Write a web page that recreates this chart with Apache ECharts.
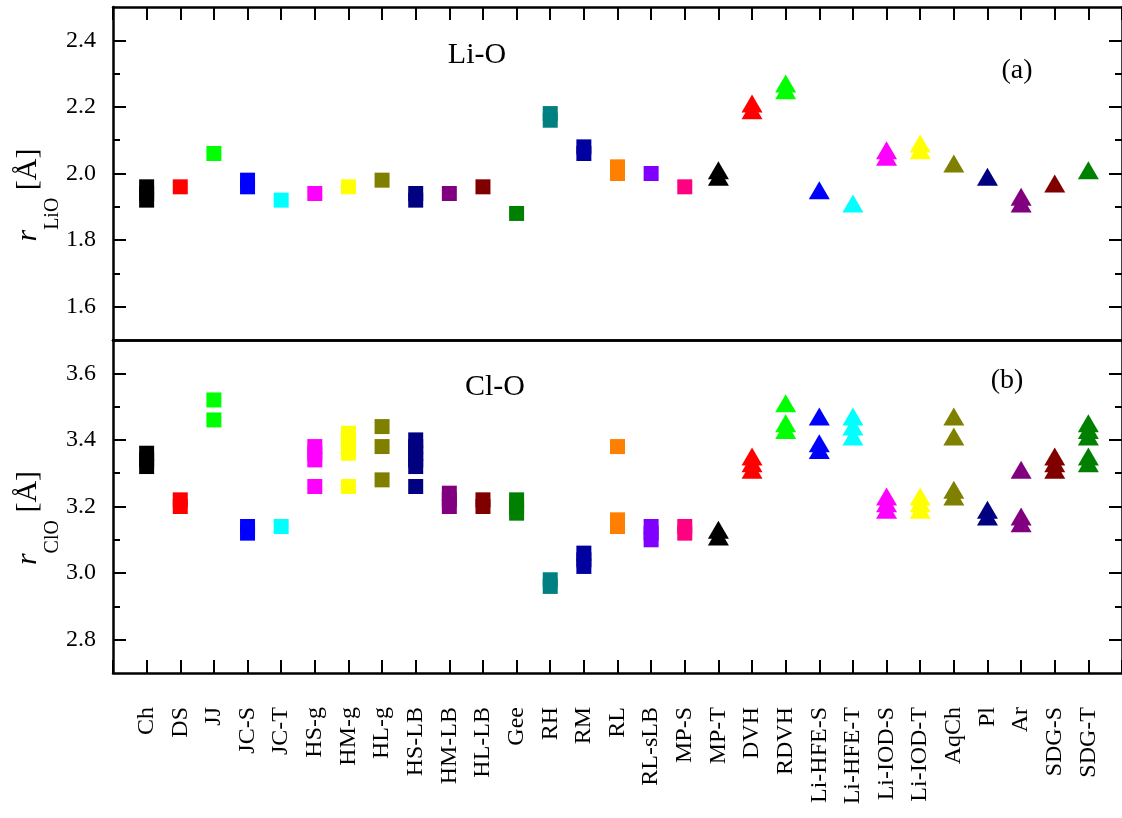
<!DOCTYPE html>
<html>
<head>
<meta charset="utf-8">
<title>Li-O / Cl-O</title>
<script src="https://cdn.jsdelivr.net/npm/echarts@6/dist/echarts.min.js"></script>
<style>
  html, body { margin: 0; padding: 0; background: #fff; }
  #chart { width: 1122px; height: 818px; }
</style>
</head>
<body>
<div id="chart"></div>
<script>
// 横轴：模型名称
var models = ["Ch", "DS", "JJ", "JC-S", "JC-T", "HS-g", "HM-g", "HL-g", "HS-LB", "HM-LB",
  "HL-LB", "Gee", "RH", "RM", "RL", "RL-sLB", "MP-S", "MP-T", "DVH", "RDVH",
  "Li-HFE-S", "Li-HFE-T", "Li-IOD-S", "Li-IOD-T", "AqCh", "Pl", "Ar", "SDG-S", "SDG-T"];
// 每个模型的颜色
var colors = ["#000000", "#ff0000", "#00ff00", "#0000ff", "#00ffff", "#ff00ff", "#ffff00", "#808000", "#000080", "#800080",
  "#800000", "#008000", "#008080", "#0000a0", "#ff8000", "#8000ff", "#ff0080", "#000000", "#ff0000", "#00ff00",
  "#0000ff", "#00ffff", "#ff00ff", "#ffff00", "#808000", "#000080", "#800080", "#800000", "#008000"];
// 从 MP-T 开始用三角
var firstTriangle = 17;

// (a) Li-O 距离
var liO = [
  [1.92, 1.94, 1.96], [1.96], [2.06], [1.96, 1.98], [1.92], [1.94], [1.96], [1.98], [1.92, 1.94], [1.94],
  [1.96], [1.88], [2.16, 2.18], [2.06, 2.08], [2.00, 2.02], [2.00], [1.96], [1.99, 2.01], [2.19, 2.21], [2.25, 2.27],
  [1.95], [1.91], [2.05, 2.07], [2.07, 2.09], [2.03], [1.99], [1.91, 1.93], [1.97], [2.01]
];
// (b) Cl-O 距离
var clO = [
  [3.32, 3.34, 3.36], [3.20, 3.22], [3.46, 3.52], [3.12, 3.14], [3.14], [3.26, 3.34, 3.36, 3.38],
  [3.26, 3.36, 3.38, 3.40, 3.42], [3.28, 3.38, 3.44], [3.26, 3.32, 3.34, 3.36, 3.38, 3.40], [3.20, 3.22, 3.24],
  [3.20, 3.22], [3.18, 3.20, 3.22], [2.96, 2.98], [3.02, 3.04, 3.06], [3.14, 3.16, 3.38], [3.10, 3.12, 3.14],
  [3.12, 3.14], [3.11, 3.13], [3.31, 3.33, 3.35], [3.43, 3.45, 3.51], [3.37, 3.39, 3.47], [3.41, 3.44, 3.47],
  [3.19, 3.21, 3.23], [3.19, 3.21, 3.23], [3.23, 3.25, 3.41, 3.47], [3.17, 3.19], [3.15, 3.17, 3.31],
  [3.31, 3.33, 3.35], [3.33, 3.35, 3.41, 3.43, 3.45]
];

// 纵轴刻度
var ticksA = [1.6, 1.8, 2.0, 2.2, 2.4];
var minorA = [1.7, 1.9, 2.1, 2.3];
var ticksB = [2.8, 3.0, 3.2, 3.4, 3.6];
var minorB = [2.9, 3.1, 3.3, 3.5];

var font = "'Liberation Serif', 'Times New Roman', serif";
var lineW = 2.5;

function toPoints(list) {
  var out = [];
  list.forEach(function (vals, i) {
    vals.forEach(function (v) {
      out.push([i, v]);
    });
  });
  return out;
}

function xAxisOf(grid, pos, ticks, labels) {
  return {
    type: "value", gridIndex: grid, position: pos,
    min: -1, max: 29, interval: 1,
    axisLine: { show: true, onZero: false, lineStyle: { color: "#000", width: lineW } },
    axisTick: { show: ticks, inside: true, length: 13, lineStyle: { color: "#000", width: 2 } },
    axisLabel: {
      show: labels, rotate: 90, margin: 34,
      color: "#000", fontSize: 24, fontFamily: font,
      formatter: function (v) { return models[v] || ""; }
    },
    splitLine: { show: false }
  };
}

function yAxisOf(grid, pos, min, max, vals, len, line, labels) {
  return {
    type: "value", gridIndex: grid, position: pos, min: min, max: max,
    axisLine: { show: line, onZero: false, lineStyle: { color: "#000", width: lineW } },
    axisTick: { show: true, inside: true, length: len, customValues: vals, lineStyle: { color: "#000", width: 2 } },
    axisLabel: {
      show: labels, customValues: vals, margin: 17,
      color: "#000", fontSize: 24, fontFamily: font,
      formatter: function (v) { return v.toFixed(1); }
    },
    splitLine: { show: false }
  };
}

function scatterOf(idx, list) {
  return {
    type: "scatter", xAxisIndex: idx, yAxisIndex: idx * 4,
    data: toPoints(list),
    symbol: function (v) { return v[0] >= firstTriangle ? "triangle" : "rect"; },
    symbolSize: function (v) { return v[0] >= firstTriangle ? [21, 18] : [15, 15]; },
    itemStyle: { color: function (p) { return colors[p.value[0]]; }, opacity: 1 },
    emphasis: { disabled: true }
  };
}

function label(text, x, y, size) {
  return {
    type: "text", x: x, y: y,
    style: { text: text, fill: "#000", font: size + "px " + font, textAlign: "center", textVerticalAlign: "middle" }
  };
}

function axisName(sub, x, y) {
  return {
    type: "text", x: x, y: y, rotation: Math.PI / 2,
    style: {
      text: "{r|r}{s|" + sub + "}{n| [Å]}",
      textAlign: "center", textVerticalAlign: "middle",
      rich: {
        r: { fontSize: 30, fontStyle: "italic", fontFamily: font, lineHeight: 30, verticalAlign: "top", fill: "#000" },
        s: { fontSize: 20, fontFamily: font, lineHeight: 50, verticalAlign: "bottom", fill: "#000" },
        n: { fontSize: 30, fontFamily: font, lineHeight: 30, verticalAlign: "top", fill: "#000" }
      }
    }
  };
}

var chart = echarts.init(document.getElementById("chart"));
chart.setOption({
  animation: false,
  backgroundColor: "#fff",
  grid: [
    { left: 113, top: 7, width: 1014, height: 333 },
    { left: 113, top: 340, width: 1014, height: 333 }
  ],
  xAxis: [
    xAxisOf(0, "bottom", false, false),
    xAxisOf(1, "bottom", true, true),
    xAxisOf(0, "top", true, false),
    xAxisOf(1, "top", false, false)
  ],
  yAxis: [
    yAxisOf(0, "left", 1.5, 2.5, ticksA, 13, true, true),
    yAxisOf(0, "left", 1.5, 2.5, minorA, 7, false, false),
    yAxisOf(0, "right", 1.5, 2.5, ticksA, 13, true, false),
    yAxisOf(0, "right", 1.5, 2.5, minorA, 7, false, false),
    yAxisOf(1, "left", 2.7, 3.7, ticksB, 13, true, true),
    yAxisOf(1, "left", 2.7, 3.7, minorB, 7, false, false),
    yAxisOf(1, "right", 2.7, 3.7, ticksB, 13, true, false),
    yAxisOf(1, "right", 2.7, 3.7, minorB, 7, false, false)
  ],
  series: [scatterOf(0, liO), scatterOf(1, clO)],
  graphic: [
    label("Li-O", 477, 55, 30),
    label("(a)", 1017, 71, 28),
    label("Cl-O", 495, 387, 30),
    label("(b)", 1007, 381, 28),
    axisName("LiO", 38, 195),
    axisName("ClO", 38, 518)
  ]
});
</script>
</body>
</html>
